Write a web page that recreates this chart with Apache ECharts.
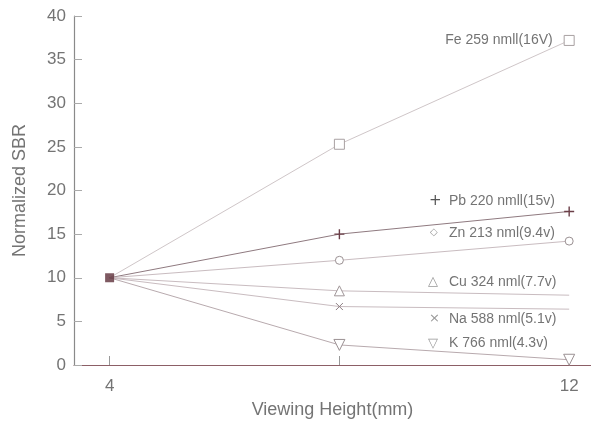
<!DOCTYPE html>
<html>
<head>
<meta charset="utf-8">
<script src="https://cdn.jsdelivr.net/npm/echarts@6/dist/echarts.min.js"></script>
<style>
html,body{margin:0;padding:0;background:#fff;}
#chart{width:591px;height:421px;}
</style>
</head>
<body>
<div id="chart"></div>
<script>
// Viewing heights (mm)
const heights = [4, 8, 12];
// Normalized SBR for each emission line
const feValues = [10, 25.3, 37.2];
const pbValues = [10, 15.0, 17.6];
const znValues = [10, 12.0, 14.2];
const cuValues = [10, 8.5, 8.0];
const naValues = [10, 6.7, 6.4];
const kValues  = [10, 2.3, 0.6];
// Line names
const lineNames = ['Fe 259 nmll(16V)', 'Pb 220 nmll(15v)', 'Zn 213 nml(9.4v)', 'Cu 324 nml(7.7v)', 'Na 588 nml(5.1v)', 'K 766 nml(4.3v)'];
// Axis ticks
const yTicks = [0, 5, 10, 15, 20, 25, 30, 35, 40];
const xTickValues = [4, 8, 12];
const xLabelValues = [4, 12];

const plusPath = 'path://M0,5L10,5M5,0L5,10';
const crossPath = 'path://M0,0L10,10M10,0L0,10';

const textGray = '#747474';
const lineGray = '#c9bcc0';

function pts(vals, syms) {
  return heights.map((h, i) => {
    const p = { value: [h, vals[i]] };
    if (syms) p.symbol = syms[i];
    return p;
  });
}

function lineSeries(name, vals, syms, symSize, color, lineColor, extra) {
  return Object.assign({
    name: name,
    type: 'line',
    data: pts(vals, syms),
    symbolSize: symSize,
    lineStyle: { color: lineColor, width: 1 },
    itemStyle: { color: '#fff', borderColor: color, borderWidth: 1 },
    z: 2
  }, extra || {});
}

const chart = echarts.init(document.getElementById('chart'), null, { renderer: 'canvas' });

const feSeries = lineSeries(lineNames[0], feValues, ['none', 'rect', 'rect'], 10, '#a8a0a2', '#cfc6c8');
feSeries.data[2].label = {
  show: true, position: 'left', distance: 11,
  formatter: lineNames[0], color: textGray, fontSize: 14, fontFamily: 'Liberation Sans'
};

const labelFont = '14px "Liberation Sans"';

const option = {
  animation: false,
  backgroundColor: '#fff',
  grid: { left: 74, right: 0, top: 16, bottom: 56, containLabel: false, outerBoundsMode: 'none' },
  xAxis: {
    type: 'value',
    min: 3.38, max: 12.38,
    name: 'Viewing Height(mm)',
    nameLocation: 'middle',
    nameGap: 36,
    nameTextStyle: { color: textGray, fontSize: 18, fontFamily: 'Liberation Sans' },
    axisLine: { show: true, lineStyle: { color: '#8c5f66', width: 1.2 } },
    axisTick: { show: true, inside: true, length: 9, customValues: xTickValues, lineStyle: { color: '#999' } },
    axisLabel: { customValues: xLabelValues, color: textGray, fontSize: 17, margin: 13, fontFamily: 'Liberation Sans' },
    splitLine: { show: false }
  },
  yAxis: {
    type: 'value',
    min: 0, max: 40, interval: 5,
    name: 'Normalized SBR',
    nameLocation: 'middle',
    nameGap: 45,
    nameTextStyle: { color: textGray, fontSize: 18, fontFamily: 'Liberation Sans' },
    axisLine: { show: true, lineStyle: { color: '#8a8a8a', width: 1.2 } },
    axisTick: { show: true, inside: true, length: 8, lineStyle: { color: '#aaa' } },
    axisLabel: { color: textGray, fontSize: 17, margin: 8, fontFamily: 'Liberation Sans',
      customValues: yTicks },
    splitLine: { show: false }
  },
  series: [
    feSeries,
    lineSeries(lineNames[1], pbValues, ['none', plusPath, plusPath], 10, '#6b3f48', '#8f7a80', { itemStyle: { color: 'none', borderColor: '#6b3f48', borderWidth: 1.4 } }),
    lineSeries(lineNames[2], znValues, ['none', 'circle', 'circle'], 8, '#9a9092', lineGray),
    lineSeries(lineNames[3], cuValues, ['none', 'triangle', 'none'], 10, '#a09698', lineGray),
    lineSeries(lineNames[4], naValues, ['none', crossPath, 'none'], 7, '#8d7f83', lineGray, { itemStyle: { color: 'none', borderColor: '#8d7f83', borderWidth: 1 } }),
    lineSeries(lineNames[5], kValues, ['none', 'path://M0,0L10,0L5,10Z', 'path://M0,0L10,0L5,10Z'], 11, '#9a9092', '#b8aaae'),
    {
      name: 'start',
      type: 'scatter',
      data: [[heights[0], feValues[0]]],
      symbol: 'rect',
      symbolSize: 9,
      itemStyle: { color: '#5e2f3a' },
      z: 5
    }
  ],
  graphic: [
    { type: 'text', left: 429, top: 194, style: { text: '+', fill: '#555', font: '15px "DejaVu Sans"' } },
    { type: 'text', left: 449, top: 194, style: { text: lineNames[1], fill: textGray, font: labelFont } },
    { type: 'text', left: 430, top: 227, style: { text: '◇', fill: '#999', font: '10px "DejaVu Sans"' } },
    { type: 'text', left: 449, top: 226, style: { text: lineNames[2], fill: textGray, font: labelFont } },
    { type: 'text', left: 428, top: 275, style: { text: '△', fill: '#999', font: '13px "DejaVu Sans"' } },
    { type: 'text', left: 449, top: 275, style: { text: lineNames[3], fill: textGray, font: labelFont } },
    { type: 'text', left: 429, top: 312, style: { text: '×', fill: '#999', font: '13px "DejaVu Sans"' } },
    { type: 'text', left: 449, top: 312, style: { text: lineNames[4], fill: textGray, font: labelFont } },
    { type: 'text', left: 428, top: 337, style: { text: '▽', fill: '#999', font: '13px "DejaVu Sans"' } },
    { type: 'text', left: 449, top: 336, style: { text: lineNames[5], fill: textGray, font: labelFont } }
  ]
};

chart.setOption(option);
</script>
</body>
</html>
